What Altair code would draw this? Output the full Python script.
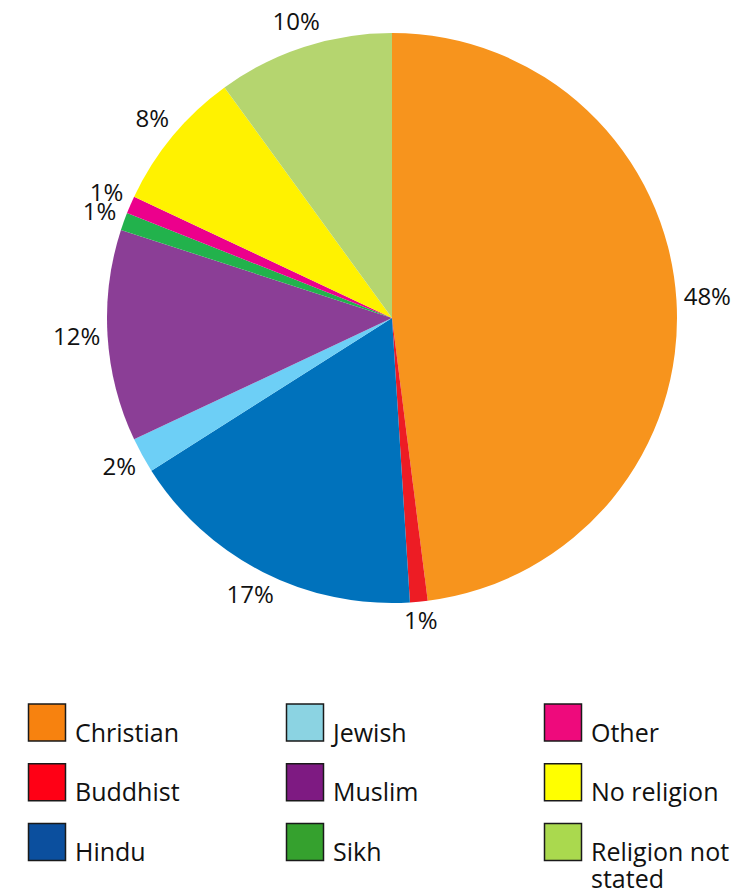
import altair as alt
import pandas as pd

categories = ["Christian", "Buddhist", "Hindu", "Jewish", "Muslim", "Sikh",
              "Other", "No religion", "Religion not stated"]
values = [48, 1, 17, 2, 12, 1, 1, 8, 10]
labels = ["48%", "1%", "17%", "2%", "12%", "1%", "1%", "8%", "10%"]
legend_labels = ["Christian", "Buddhist", "Hindu", "Jewish", "Muslim", "Sikh",
                 "Other", "No religion", "Religion not\nstated"]
pie_colors = ["#F7941D", "#ED1C24", "#0072BC", "#6DCFF6", "#8B3E96",
              "#22B24C", "#EC008C", "#FFF200", "#B5D56F"]
legend_colors = ["#F7820F", "#FF0015", "#0B4F9E", "#8BD3E2", "#7E1A82",
                 "#35A12E", "#EE0A7C", "#FFFF00", "#AAD94E"]

df = pd.DataFrame({
    "category": categories,
    "value": values,
    "label": labels,
    "legend_label": legend_labels,
    "idx": list(range(len(categories))),
})

W, H = 737, 891
CX, CY, R = 392, 318, 285
FONT = "Open Sans"

base = alt.Chart(df)

pie = base.mark_arc(outerRadius=R, innerRadius=0).encode(
    theta=alt.Theta("value:Q", stack=True),
    order=alt.Order("idx:Q"),
    color=alt.Color("category:N", scale=alt.Scale(domain=categories, range=pie_colors), legend=None),
    x=alt.value(CX),
    y=alt.value(CY),
)

pie_labels = base.transform_joinaggregate(
    total="sum(value)"
).transform_window(
    cum="sum(value)", sort=[alt.SortField("idx")], frame=[None, 0]
).transform_calculate(
    mid="(datum.cum - datum.value/2) / datum.total * 2 * PI",
).transform_calculate(
    rad="295 + abs(sin(datum.mid)) * length(datum.label) * 6.8 + abs(cos(datum.mid)) * 9",
).mark_text(font=FONT, fontSize=24, align="center", baseline="middle", color="#111111").encode(
    theta=alt.Theta("mid:Q", scale=None),
    radius=alt.Radius("rad:Q", scale=None),
    text="label:N",
    x=alt.value(CX),
    y=alt.value(CY),
)

xs = alt.Scale(domain=[0, 2], range=[47, 563])
ys = alt.Scale(domain=[0, 2], range=[722.5, 842])

legend_base = base.transform_calculate(
    col="floor(datum.idx / 3)",
    row="datum.idx % 3",
)

legend_rect = legend_base.mark_rect(width=37, height=37, stroke="#1a1a1a", strokeWidth=1.5).encode(
    x=alt.X("col:Q", scale=xs, axis=None),
    y=alt.Y("row:Q", scale=ys, axis=None),
    fill=alt.Fill("category:N", scale=alt.Scale(domain=categories, range=legend_colors), legend=None),
)

legend_text = legend_base.mark_text(
    font=FONT, fontSize=25, align="left", baseline="alphabetic", dx=28, dy=19,
    lineBreak="\n", lineHeight=27, color="#111111",
).encode(
    x=alt.X("col:Q", scale=xs, axis=None),
    y=alt.Y("row:Q", scale=ys, axis=None),
    text="legend_label:N",
)

chart = alt.layer(pie, pie_labels, legend_rect, legend_text).resolve_scale(
    color="independent", fill="independent"
).properties(
    width=W, height=H, padding=0, autosize=alt.AutoSizeParams(type="none"),
    background="white",
).configure_view(stroke=None)

chart.save("out.html", embed_options={"renderer": "svg", "actions": False})
